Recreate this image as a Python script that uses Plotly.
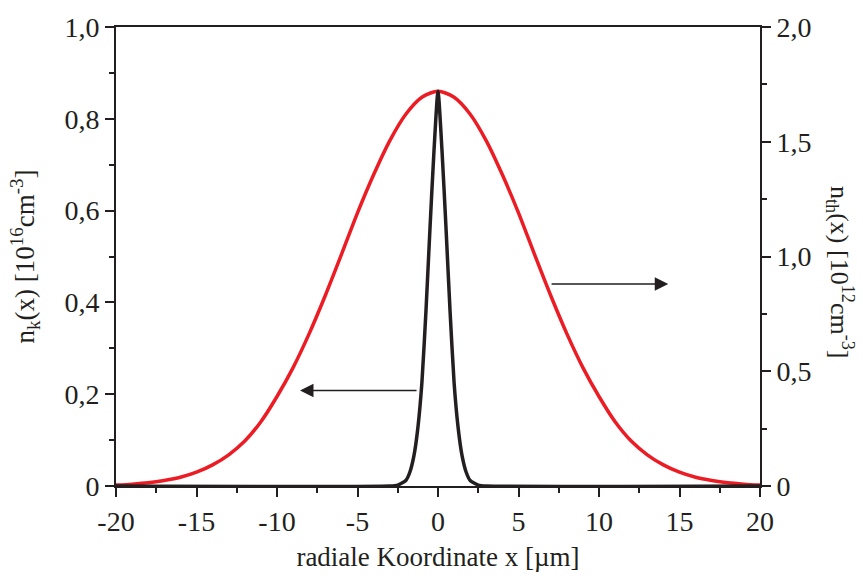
import plotly.graph_objects as go

# black curve: n_k(x) in 1e16 cm^-3 (left axis)
x_k = [-20, -3, -2.5, -2.0, -1.75, -1.5, -1.25, -1.0, -0.75, -0.5, -0.25, 0,
       0.25, 0.5, 0.75, 1.0, 1.25, 1.5, 1.75, 2.0, 2.5, 3, 20]
n_k = [0, 0, 0.002, 0.012, 0.03, 0.065, 0.127, 0.225, 0.38, 0.56, 0.73, 0.86,
       0.73, 0.56, 0.38, 0.225, 0.127, 0.065, 0.03, 0.012, 0.002, 0, 0]

# red curve: n_th(x) in 1e12 cm^-3 (right axis)
x_th = list(range(-20, 21))
n_th_half = [1.72, 1.694, 1.62, 1.504, 1.356, 1.19, 1.008, 0.83, 0.664, 0.516,
             0.39, 0.28, 0.196, 0.136, 0.092, 0.06, 0.038, 0.024, 0.014, 0.008, 0.004]
n_th = n_th_half[::-1] + n_th_half[1:]

x_ticks = [-20, -15, -10, -5, 0, 5, 10, 15, 20]
x_ticktext = ["-20", "-15", "-10", "-5", "0", "5", "10", "15", "20"]
yl_ticks = [0, 0.2, 0.4, 0.6, 0.8, 1.0]
yl_ticktext = ["0", "0,2", "0,4", "0,6", "0,8", "1,0"]
yr_ticks = [0, 0.5, 1.0, 1.5, 2.0]
yr_ticktext = ["0", "0,5", "1,0", "1,5", "2,0"]

RED = "#ec1c24"
BLK = "#231f20"
FONT = "Liberation Serif"
TICK_SIZE = 28
TITLE_SIZE = 27

fig = go.Figure()
fig.add_trace(go.Scatter(x=x_th, y=n_th, mode="lines", yaxis="y",
                         line=dict(color=RED, width=3.5, shape="spline", smoothing=0.8),
                         showlegend=False, hoverinfo="skip"))
fig.add_trace(go.Scatter(x=x_k, y=n_k, mode="lines", yaxis="y2",
                         line=dict(color=BLK, width=3.5, shape="spline", smoothing=0.6),
                         showlegend=False, hoverinfo="skip"))

axis_common = dict(showgrid=False, zeroline=False, showline=True, linecolor=BLK,
                   linewidth=2, ticks="outside", ticklen=9, tickwidth=2, tickcolor=BLK,
                   tickfont=dict(family=FONT, size=TICK_SIZE, color=BLK))

fig.update_layout(
    width=863, height=579,
    margin=dict(l=116, r=103, t=16, b=91),
    paper_bgcolor="white", plot_bgcolor="white",
    font=dict(family=FONT, color=BLK),
    xaxis=dict(range=[-20, 20], tickmode="array", tickvals=x_ticks, ticktext=x_ticktext,
               mirror=True,
               minor=dict(tickvals=[-17.5, -12.5, -7.5, -2.5, 2.5, 7.5, 12.5, 17.5],
                          ticklen=5, tickwidth=2, tickcolor=BLK, ticks="outside"),
               title=dict(text="radiale Koordinate x [µm]",
                          font=dict(family=FONT, size=TITLE_SIZE), standoff=12),
               **axis_common),
    yaxis=dict(range=[0, 2.0], side="right", tickmode="array", tickvals=yr_ticks,
               ticktext=yr_ticktext,
               minor=dict(tickvals=[0.25, 0.75, 1.25, 1.75], ticklen=5, tickwidth=2,
                          tickcolor=BLK, ticks="outside"),
               **axis_common),
    yaxis2=dict(range=[0, 1.0], side="left", overlaying="y", tickmode="array",
                tickvals=yl_ticks, ticktext=yl_ticktext,
                minor=dict(tickvals=[0.1, 0.3, 0.5, 0.7, 0.9], ticklen=5, tickwidth=2,
                           tickcolor=BLK, ticks="outside"),
                title=dict(text="n<sub>k</sub>(x) [10<sup>16</sup>cm<sup>-3</sup>]",
                           font=dict(family=FONT, size=TITLE_SIZE), standoff=22),
                **axis_common),
)

fig.add_annotation(xref="paper", yref="paper", x=1.0 + (840 - 760) / 644,
                   y=(488 - 268) / 472,
                   xanchor="center", yanchor="middle",
                   text="n<sub>th</sub>(x) [10<sup>12</sup>cm<sup>-3</sup>]",
                   textangle=90, showarrow=False,
                   font=dict(family=FONT, size=26, color=BLK))

# arrows pointing to the respective axes
fig.add_annotation(x=-8.57, y=0.208, ax=-1.24, ay=0.208, xref="x", yref="y2",
                   axref="x", ayref="y2", showarrow=True, arrowhead=2,
                   arrowwidth=1.5, arrowsize=1.8, arrowcolor=BLK, text="")
fig.add_annotation(x=14.3, y=0.44, ax=6.96, ay=0.44, xref="x", yref="y2",
                   axref="x", ayref="y2", showarrow=True, arrowhead=2,
                   arrowwidth=1.5, arrowsize=1.8, arrowcolor=BLK, text="")

fig.write_html("out.html")
